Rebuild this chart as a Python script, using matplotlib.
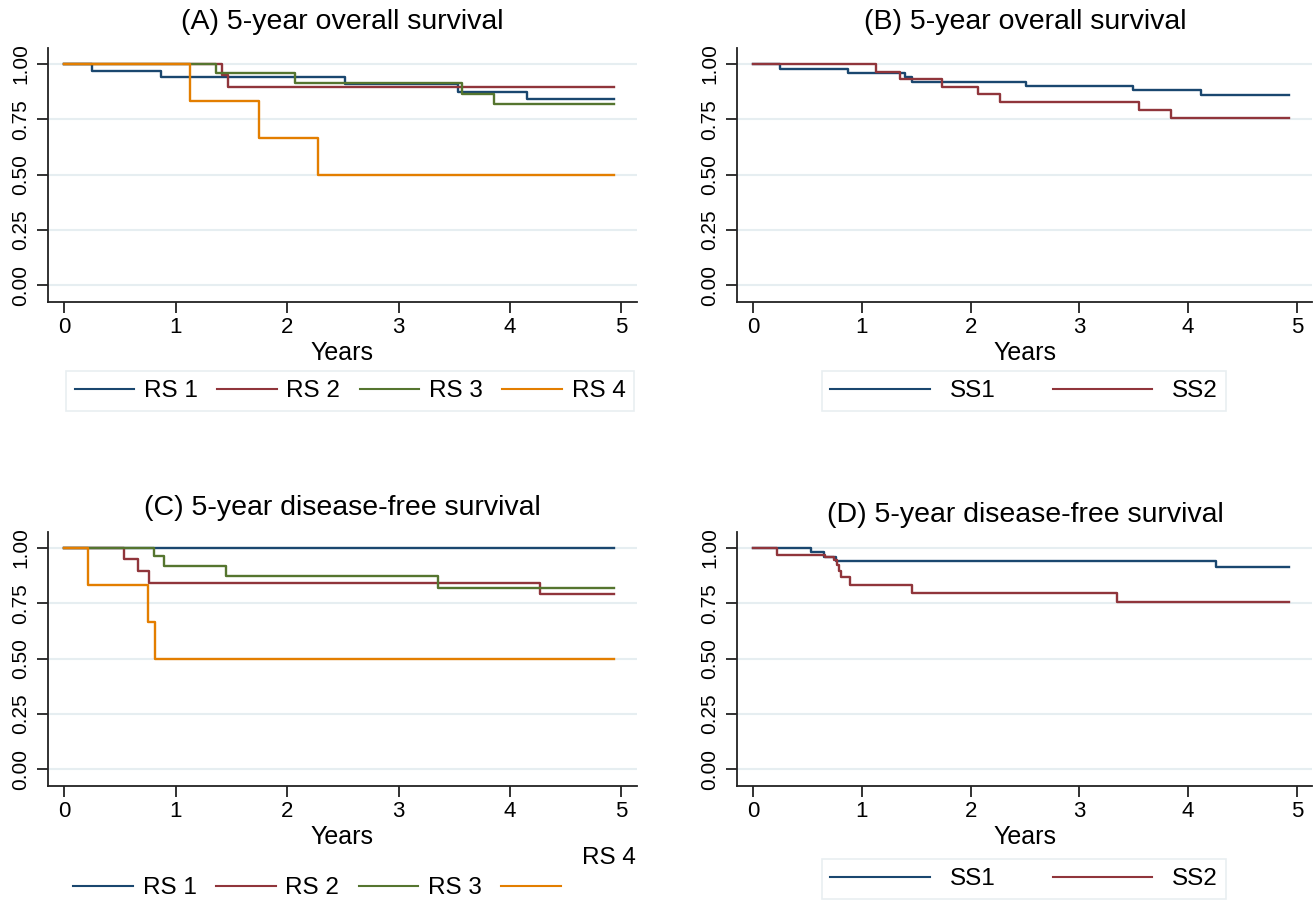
import matplotlib
matplotlib.use("Agg")
import matplotlib.pyplot as plt
from matplotlib.lines import Line2D

plt.rcParams['font.family'] = ['Liberation Sans', 'DejaVu Sans']

# ---------------- data ----------------
years_ticks = [0, 1, 2, 3, 4, 5]
surv_ticks = [0.00, 0.25, 0.50, 0.75, 1.00]
surv_ticklabels = ["0.00", "0.25", "0.50", "0.75", "1.00"]

# (A) 5-year overall survival by RS
a_rs1_t = [0, 0.25, 0.87, 2.52, 3.53, 4.15, 4.93]
a_rs1_s = [1.00, 0.970, 0.940, 0.909, 0.875, 0.840, 0.840]
a_rs2_t = [0, 1.41, 1.47, 4.93]
a_rs2_s = [1.00, 0.950, 0.895, 0.895]
a_rs3_t = [0, 1.36, 2.07, 3.57, 3.86, 4.93]
a_rs3_s = [1.00, 0.957, 0.913, 0.866, 0.818, 0.818]
a_rs4_t = [0, 1.13, 1.75, 2.28, 4.93]
a_rs4_s = [1.00, 0.833, 0.667, 0.500, 0.500]

# (B) 5-year overall survival by SS
b_ss1_t = [0, 0.25, 0.87, 1.40, 1.46, 2.51, 3.49, 4.12, 4.93]
b_ss1_s = [1.00, 0.979, 0.959, 0.942, 0.920, 0.900, 0.880, 0.858, 0.858]
b_ss2_t = [0, 1.13, 1.35, 1.74, 2.07, 2.27, 3.55, 3.84, 4.93]
b_ss2_s = [1.00, 0.964, 0.931, 0.897, 0.864, 0.829, 0.792, 0.754, 0.754]

# (C) 5-year disease-free survival by RS
c_rs1_t = [0, 4.93]
c_rs1_s = [1.00, 1.00]
c_rs2_t = [0, 0.53, 0.66, 0.76, 4.27, 4.93]
c_rs2_s = [1.00, 0.948, 0.895, 0.843, 0.790, 0.790]
c_rs3_t = [0, 0.80, 0.89, 1.45, 3.35, 4.93]
c_rs3_s = [1.00, 0.963, 0.918, 0.872, 0.820, 0.820]
c_rs4_t = [0, 0.21, 0.75, 0.81, 4.93]
c_rs4_s = [1.00, 0.832, 0.666, 0.500, 0.500]

# (D) 5-year disease-free survival by SS
d_ss1_t = [0, 0.53, 0.65, 0.76, 4.26, 4.93]
d_ss1_s = [1.00, 0.980, 0.960, 0.941, 0.915, 0.915]
d_ss2_t = [0, 0.22, 0.66, 0.74, 0.77, 0.79, 0.81, 0.89, 1.46, 3.35, 4.93]
d_ss2_s = [1.00, 0.968, 0.960, 0.945, 0.925, 0.897, 0.867, 0.834, 0.797, 0.756, 0.756]

titles = ["(A) 5-year overall survival", "(B) 5-year overall survival",
          "(C) 5-year disease-free survival", "(D) 5-year disease-free survival"]
rs_labels = ["RS 1", "RS 2", "RS 3", "RS 4"]
ss_labels = ["SS1", "SS2"]
xlabel = "Years"

# ---------------- style ----------------
NAVY = "#1A476F"
MAROON = "#90353B"
GREEN = "#55752F"
ORANGE = "#E37E00"
GRID = "#E6EEF1"
rs_colors = [NAVY, MAROON, GREEN, ORANGE]
ss_colors = [NAVY, MAROON]

W, H = 1315, 911
fig = plt.figure(figsize=(W / 100, H / 100), dpi=100)
fig.patch.set_facecolor("white")


def add_ax(l, r, t, b):
    return fig.add_axes([l / W, 1 - b / H, (r - l) / W, (b - t) / H])


def style(ax):
    ax.set_xlim(-0.148, 5.14)
    ax.set_ylim(-0.076, 1.072)
    ax.set_xticks(years_ticks)
    ax.set_xticklabels([str(v) for v in years_ticks], fontsize=16)
    ax.set_yticks(surv_ticks)
    ax.set_yticklabels(surv_ticklabels, fontsize=15, rotation=90, va="center")
    for s in ["top", "right"]:
        ax.spines[s].set_visible(False)
    for s in ["left", "bottom"]:
        ax.spines[s].set_linewidth(1.3)
        ax.spines[s].set_color("#222222")
    ax.tick_params(axis="both", direction="out", length=8, width=1.3, color="#222222")
    ax.tick_params(axis="y", pad=5)
    ax.tick_params(axis="x", pad=3)
    ax.grid(axis="y", color=GRID, lw=1.5)
    ax.set_axisbelow(True)


axA = add_ax(48, 637, 48, 302)
axB = add_ax(737, 1312, 48, 302)
axC = add_ax(48, 637, 532, 786)
axD = add_ax(737, 1312, 532, 786)

LW = 1.7
for t, s, c in zip([a_rs1_t, a_rs2_t, a_rs3_t, a_rs4_t],
                   [a_rs1_s, a_rs2_s, a_rs3_s, a_rs4_s], rs_colors):
    axA.plot(t, s, drawstyle="steps-post", color=c, lw=LW)
for t, s, c in zip([b_ss1_t, b_ss2_t], [b_ss1_s, b_ss2_s], ss_colors):
    axB.plot(t, s, drawstyle="steps-post", color=c, lw=LW)
for t, s, c in zip([c_rs1_t, c_rs2_t, c_rs3_t, c_rs4_t],
                   [c_rs1_s, c_rs2_s, c_rs3_s, c_rs4_s], rs_colors):
    axC.plot(t, s, drawstyle="steps-post", color=c, lw=LW)
for t, s, c in zip([d_ss1_t, d_ss2_t], [d_ss1_s, d_ss2_s], ss_colors):
    axD.plot(t, s, drawstyle="steps-post", color=c, lw=LW)

for ax in [axA, axB, axC, axD]:
    style(ax)

# titles & x labels
TFS = 20.5
fig.text(342 / W, 1 - 22 / H, titles[0], ha="center", va="center", fontsize=TFS)
fig.text(1025 / W, 1 - 22 / H, titles[1], ha="center", va="center", fontsize=TFS)
fig.text(342 / W, 1 - 508 / H, titles[2], ha="center", va="center", fontsize=TFS)
fig.text(1025 / W, 1 - 515 / H, titles[3], ha="center", va="center", fontsize=TFS)

for xc, yc in [(342, 353), (1025, 353), (342, 837), (1025, 837)]:
    fig.text(xc / W, 1 - yc / H, xlabel, ha="center", va="center", fontsize=18)

# legends
LFS = 17.5
rs_handles = [Line2D([], [], color=c, lw=1.5) for c in rs_colors]
ss_handles = [Line2D([], [], color=c, lw=1.5) for c in ss_colors]

legA = fig.legend(rs_handles, rs_labels, loc="center", bbox_to_anchor=(350 / W, 1 - 391 / H),
                  ncol=4, fontsize=LFS, handlelength=2.45, handletextpad=0.4,
                  columnspacing=0.8, frameon=True, fancybox=False, borderpad=0.35,
                  edgecolor="#E3EAEE", borderaxespad=0)
legA.get_frame().set_linewidth(1.2)

legB = fig.legend(ss_handles, ss_labels, loc="center", bbox_to_anchor=(1024 / W, 1 - 391 / H),
                  ncol=2, fontsize=LFS, handlelength=4.1, handletextpad=0.82,
                  columnspacing=2.35, frameon=True, fancybox=False, borderpad=0.35,
                  edgecolor="#E3EAEE", borderaxespad=0)
legB.get_frame().set_linewidth(1.2)

legC = fig.legend(rs_handles, rs_labels[:3] + [""], loc="center",
                  bbox_to_anchor=(322 / W, 1 - 888 / H),
                  ncol=4, fontsize=LFS, handlelength=2.45, handletextpad=0.4,
                  columnspacing=0.8, frameon=False, borderaxespad=0)
fig.text(609 / W, 1 - 858 / H, rs_labels[3], ha="center", va="center", fontsize=LFS)

legD = fig.legend(ss_handles, ss_labels, loc="center", bbox_to_anchor=(1024 / W, 1 - 879 / H),
                  ncol=2, fontsize=LFS, handlelength=4.1, handletextpad=0.82,
                  columnspacing=2.35, frameon=True, fancybox=False, borderpad=0.35,
                  edgecolor="#E3EAEE", borderaxespad=0)
legD.get_frame().set_linewidth(1.2)

fig.savefig("out.png", dpi=100, facecolor="white")
